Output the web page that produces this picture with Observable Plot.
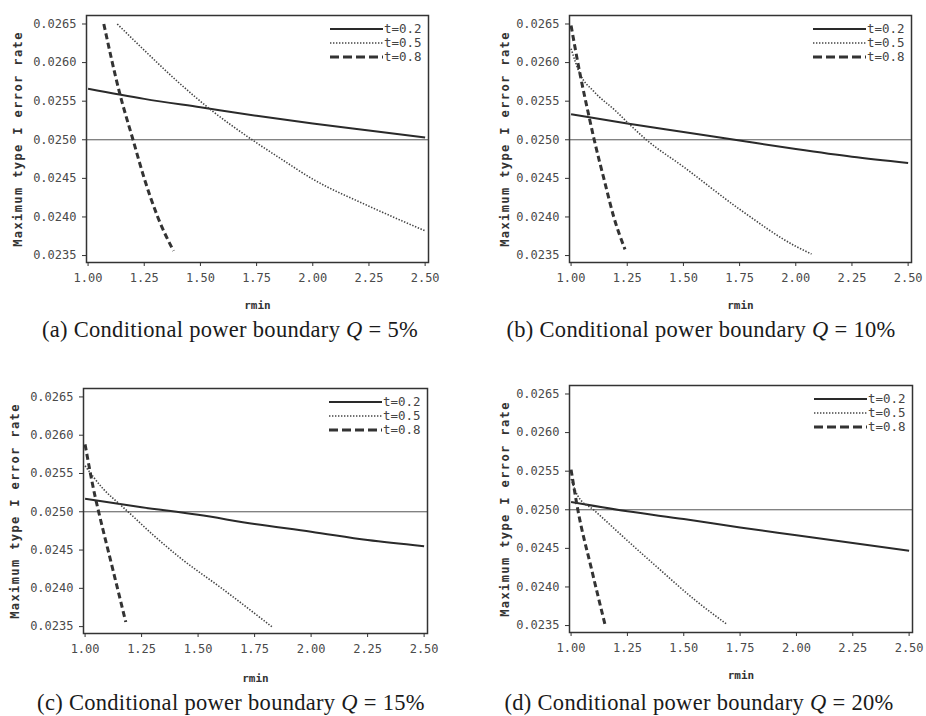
<!DOCTYPE html>
<html>
<head>
<meta charset="utf-8">
<script src="https://cdn.jsdelivr.net/npm/d3@7"></script>
<script src="https://cdn.jsdelivr.net/npm/@observablehq/plot@0.6"></script>
<style>
html, body { margin: 0; padding: 0; background: #fff; }
#root { position: relative; width: 926px; height: 716px; overflow: hidden; background: #fff; }
.panel { position: absolute; width: 463px; height: 315px; }
.caption { position: absolute; font-family: "Liberation Serif", "Times New Roman", serif; font-size: 22.5px; line-height: 22px; color: #1a1a1a; white-space: nowrap; transform: translateX(-50%); letter-spacing: 0.3px; }
.legend { position: absolute; overflow: visible; }
svg [aria-label="y-axis label"] text { font-weight: bold; font-size: 12px; letter-spacing: 1.4px; fill: #333; }
svg [aria-label="x-axis label"] text { font-weight: bold; font-size: 11px; fill: #333; }
svg [aria-label="x-axis tick label"] text, svg [aria-label="y-axis tick label"] text { fill: #4a4a4a; }
</style>
</head>
<body>
<div id="root"></div>
<script>
// ---------- data ----------
const seriesNames = ["t=0.2", "t=0.5", "t=0.8"];
const panelLetters = ["(a)", "(b)", "(c)", "(d)"];
const qValues = ["5%", "10%", "15%", "20%"];
const captionText = "Conditional power boundary";
const xLabel = "rmin";
const yLabel = "Maximum type I error rate";
const xTicks = [1.00, 1.25, 1.50, 1.75, 2.00, 2.25, 2.50];
const yTicks = [0.0235, 0.0240, 0.0245, 0.0250, 0.0255, 0.0260, 0.0265];
const referenceRate = 0.025;

// panel (a) Q = 5%
const a_t02 = [[1.00,0.02566],[1.25,0.02553],[1.50,0.02542],[1.75,0.02531],[2.00,0.02521],[2.25,0.02512],[2.50,0.02503]];
const a_t05 = [[1.13,0.02650],[1.25,0.02616],[1.40,0.02575],[1.55,0.02538],[1.73,0.02500],[1.86,0.02475],[2.00,0.02449],[2.25,0.02414],[2.50,0.02382]];
const a_t08 = [[1.07,0.02650],[1.14,0.02561],[1.20,0.02500],[1.25,0.02450],[1.31,0.02400],[1.38,0.02356]];
// panel (b) Q = 10%
const b_t02 = [[1.00,0.02533],[1.25,0.02521],[1.50,0.02510],[1.75,0.02499],[2.00,0.02488],[2.25,0.02478],[2.50,0.02470]];
const b_t05 = [[1.00,0.02618],[1.04,0.02585],[1.10,0.02563],[1.20,0.02537],[1.26,0.02520],[1.335,0.02500],[1.50,0.02465],[1.75,0.02410],[2.00,0.02362],[2.07,0.02352]];
const b_t08 = [[1.00,0.02648],[1.04,0.02585],[1.08,0.02530],[1.103,0.02500],[1.15,0.02445],[1.19,0.02400],[1.24,0.02358]];
// panel (c) Q = 15%
const c_t02 = [[1.00,0.02517],[1.25,0.02506],[1.50,0.02496],[1.75,0.02484],[2.00,0.02474],[2.25,0.02463],[2.50,0.02455]];
const c_t05 = [[1.00,0.02560],[1.08,0.02530],[1.16,0.02508],[1.19,0.02500],[1.30,0.02470],[1.42,0.02440],[1.60,0.02401],[1.83,0.02349]];
const c_t08 = [[1.00,0.02588],[1.045,0.02519],[1.06,0.02500],[1.12,0.02428],[1.18,0.02356]];
// panel (d) Q = 20%
const d_t02 = [[1.00,0.02510],[1.25,0.02498],[1.50,0.02488],[1.75,0.02477],[2.00,0.02467],[2.25,0.02457],[2.50,0.02447]];
const d_t05 = [[1.00,0.02540],[1.03,0.02518],[1.10,0.02500],[1.25,0.02460],[1.40,0.02421],[1.55,0.02383],[1.69,0.02352]];
const d_t08 = [[1.00,0.02552],[1.03,0.02500],[1.09,0.02424],[1.15,0.02352]];

const panelSeries = [
  [a_t02, a_t05, a_t08],
  [b_t02, b_t05, b_t08],
  [c_t02, c_t05, c_t08],
  [d_t02, d_t05, d_t08]
];

// ---------- styles & layout ----------
const seriesStyles = [
  {stroke: "#2a2a2a", strokeWidth: 2, strokeDasharray: null, legendDash: null},
  {stroke: "#444", strokeWidth: 1.6, strokeDasharray: "1.4,1.6", legendDash: "1.4,1.6"},
  {stroke: "#333", strokeWidth: 3, strokeDasharray: "6,3.5", legendDash: "9,4"}
];
const layout = [
  {left: 0,   top: 0,   mL: 86,  mR: 35, mT: 15, mB: 53, yLabLeft: 13, capX: 230, capTop: 319},
  {left: 463, top: 0,   mL: 106, mR: 15, mT: 15, mB: 53, yLabLeft: 37, capX: 238, capTop: 319},
  {left: 0,   top: 373, mL: 83,  mR: 36, mT: 15, mB: 55, yLabLeft: 10, capX: 231, capTop: 319},
  {left: 463, top: 370, mL: 106, mR: 14, mT: 15, mB: 53, yLabLeft: 37, capX: 236, capTop: 322}
];
const W = 463, H = 315;
const root = document.getElementById("root");

panelSeries.forEach((series, i) => {
  const L = layout[i];
  const div = document.createElement("div");
  div.className = "panel";
  div.style.left = L.left + "px";
  div.style.top = L.top + "px";
  root.appendChild(div);

  const lineMarks = series.map((data, s) => Plot.line(data, {
    x: d => d[0], y: d => d[1], curve: "monotone-x",
    stroke: seriesStyles[s].stroke, strokeWidth: seriesStyles[s].strokeWidth,
    strokeDasharray: seriesStyles[s].strokeDasharray, strokeLinecap: "butt"
  }));

  const chart = Plot.plot({
    width: W, height: H,
    marginLeft: L.mL, marginRight: L.mR, marginTop: L.mT, marginBottom: L.mB,
    style: {fontFamily: "'DejaVu Sans Mono', monospace", fontSize: "12px", color: "#333", background: "#fff"},
    x: {domain: [0.993, 2.515]},
    y: {domain: [0.02341, 0.02661]},
    marks: [
      Plot.ruleY([referenceRate], {stroke: "#555", strokeWidth: 1}),
      ...lineMarks,
      Plot.frame({stroke: "#333", strokeWidth: 1.5}),
      Plot.axisX(xTicks, {tickFormat: d3.format(".2f"), tickSize: 4, tickPadding: 7, label: xLabel, labelAnchor: "center", labelArrow: "none", labelOffset: L.mB - 7}),
      Plot.axisY(yTicks, {tickFormat: d3.format(".4f"), tickSize: 4, tickPadding: 6, label: yLabel, labelAnchor: "center", labelArrow: "none", labelOffset: L.mL - L.yLabLeft})
    ]
  });
  div.appendChild(chart);

  // legend (upper right inside the frame)
  const frameRight = W - L.mR;
  const lg = d3.create("svg")
    .attr("class", "legend")
    .attr("width", 104).attr("height", 48)
    .style("left", (frameRight - 100) + "px")
    .style("top", (L.mT + 4) + "px");
  seriesNames.forEach((name, s) => {
    const y = 10 + s * 14;
    lg.append("line")
      .attr("x1", 2).attr("x2", 55).attr("y1", y).attr("y2", y)
      .attr("stroke", seriesStyles[s].stroke)
      .attr("stroke-width", seriesStyles[s].strokeWidth)
      .attr("stroke-dasharray", seriesStyles[s].legendDash);
    lg.append("text")
      .attr("x", 56).attr("y", y).attr("dy", "0.35em")
      .attr("font-family", "'DejaVu Sans Mono', monospace")
      .attr("font-size", 12.5).attr("fill", "#444")
      .text(name);
  });
  div.appendChild(lg.node());

  // caption
  const cap = document.createElement("div");
  cap.className = "caption";
  cap.style.left = L.capX + "px";
  cap.style.top = L.capTop + "px";
  cap.innerHTML = panelLetters[i] + " " + captionText + " <i>Q</i> = " + qValues[i];
  div.appendChild(cap);
});
</script>
</body>
</html>
